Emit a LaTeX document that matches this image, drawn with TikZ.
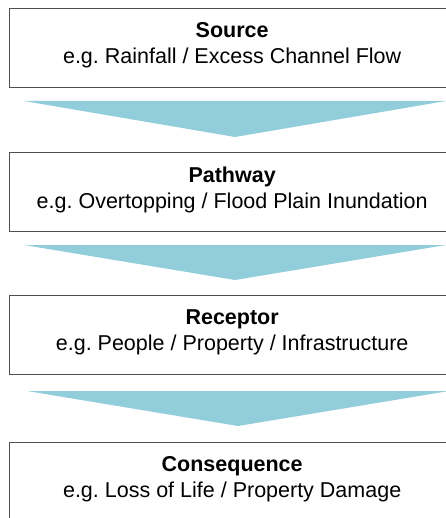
\documentclass[tikz,border=0pt]{standalone}
\usepackage{fontspec}
\setmainfont{Liberation Sans}
\definecolor{arrowblue}{HTML}{92CDDC}
\definecolor{boxline}{HTML}{505050}
\tikzset{
  stagebox/.style={draw=boxline, line width=1.3pt, fill=white, minimum width=447pt, minimum height=79pt, inner sep=0pt, anchor=north west},
  stagetext/.style={align=center, font=\fontsize{21.5}{26}\selectfont\frenchspacing, inner sep=0pt, text=black},
  flowarrow/.style={fill=arrowblue, draw=none}
}
\begin{document}
\begin{tikzpicture}[x=1pt, y=-1pt]
\useasboundingbox (0,0) rectangle (445,518);
% boxes
\node[stagebox] (src) at (9,8) {};
\node[stagebox] (pth) at (9,152) {};
\node[stagebox] (rec) at (9,295) {};
\node[stagebox] (con) at (9,442) {};
% texts
\node[stagetext] (srct) at ([xshift=-1pt,yshift=2.5pt]src.center) {\textbf{Source}\\e.g. Rainfall / Excess Channel Flow};
\node[stagetext] (ptht) at ([xshift=-1pt,yshift=2.5pt]pth.center) {\textbf{Pathway}\\e.g. Overtopping / Flood Plain Inundation};
\node[stagetext] (rect) at ([xshift=-1pt,yshift=2.5pt]rec.center) {\textbf{Receptor}\\e.g. People / Property / Infrastructure};
\node[stagetext] (cont) at ([xshift=-1pt,yshift=2.5pt]con.center) {\textbf{Consequence}\\e.g. Loss of Life / Property Damage};
% arrows
\coordinate (a1l) at (24,101); \coordinate (a1r) at (446,101); \coordinate (a1t) at (235,137);
\coordinate (a2l) at (24,245); \coordinate (a2r) at (446,245); \coordinate (a2t) at (235,280);
\coordinate (a3l) at (27,391); \coordinate (a3r) at (449,391); \coordinate (a3t) at (238,426);
\fill[flowarrow] (a1l) -- (a1r) -- (a1t) -- cycle;
\fill[flowarrow] (a2l) -- (a2r) -- (a2t) -- cycle;
\fill[flowarrow] (a3l) -- (a3r) -- (a3t) -- cycle;
\end{tikzpicture}
\end{document}
